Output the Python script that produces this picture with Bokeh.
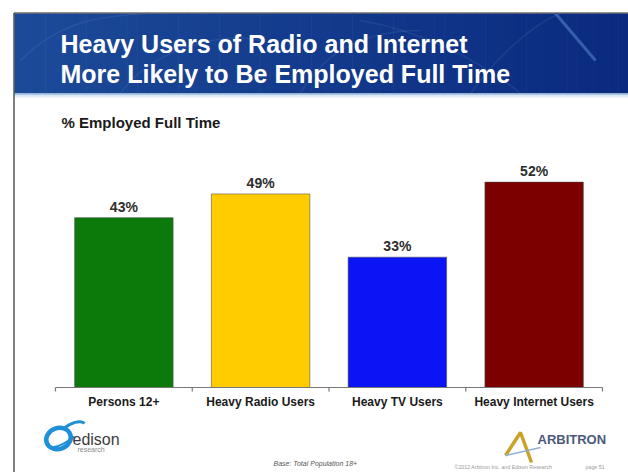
from bokeh.plotting import figure
from bokeh.models import Range1d
from bokeh.core.properties import value
from bokeh.embed import file_html
from bokeh.resources import INLINE

# ---- data -------------------------------------------------------------
categories = ["Persons 12+", "Heavy Radio Users", "Heavy TV Users", "Heavy Internet Users"]
employed_pct = [43, 49, 33, 52]
bar_colors = ["#0b7a0b", "#ffcc00", "#0a14f5", "#7d0000"]

title_lines = ["Heavy Users of Radio and Internet", "More Likely to Be Employed Full Time"]
subtitle = "% Employed Full Time"
base_note = "Base: Total Population 18+"
copyright_note = "\u00a92012 Arbitron Inc. and Edison Research"
page_note = "page 51"

# ---- layout (canvas pixels) ------------------------------------------
W, H = 628, 472
SLOT_LEFT = 55        # left edge of the first category slot
SLOT_W = 136.75       # width of one category slot
BASELINE = 387        # y of the 0% line, from the top
PX_PER_PCT = 3.95     # vertical pixels per percentage point

FONT = value("Liberation Sans")
n = len(categories)

p = figure(
    width=W, height=H,
    x_range=Range1d(-SLOT_LEFT / SLOT_W, (W - SLOT_LEFT) / SLOT_W),
    y_range=Range1d(-(H - BASELINE) / PX_PER_PCT, BASELINE / PX_PER_PCT),
    x_axis_type=None, y_axis_type=None,
    output_backend="svg", toolbar_location=None, min_border=0,
)
p.grid.visible = False
p.outline_line_color = None
p.background_fill_color = "white"
p.border_fill_color = "white"

# pixel coordinate system for the slide decoration (y grows downward)
p.extra_x_ranges = {"px": Range1d(0, W)}
p.extra_y_ranges = {"px": Range1d(H, 0)}
PX = dict(x_range_name="px", y_range_name="px")

# ---- header band ------------------------------------------------------
def mix(c0, c1, t):
    a = [int(c0[i:i + 2], 16) for i in (1, 3, 5)]
    b = [int(c1[i:i + 2], 16) for i in (1, 3, 5)]
    return "#%02x%02x%02x" % tuple(round(a[k] + (b[k] - a[k]) * t) for k in range(3))

hx0, hx1, hy0, hy1 = 14, W, 13, 93
steps = 60
sw = (hx1 - hx0) / steps
lefts = [hx0 + i * sw for i in range(steps)]
p.quad(left=lefts, right=[l + sw + 0.6 for l in lefts], top=[hy0] * steps, bottom=[hy1] * steps,
       fill_color=[mix("#1c4a99", "#0a2a7f", i / (steps - 1)) for i in range(steps)],
       line_color=None, **PX)

# faint texture curves in the header
p.bezier(x0=[20, 120, 300, 360, 470], y0=[60, 93, 93, 20, 93],
         x1=[150, 260, 420, 520, 560], y1=[13, 40, 30, 93, 13],
         cx0=[60, 150, 330, 420, 500], cy0=[20, 50, 40, 30, 50],
         cx1=[100, 220, 380, 480, 540], cy1=[15, 30, 30, 60, 20],
         line_color="#7d9ad6", line_alpha=0.14, line_width=1.5, **PX)
p.segment(x0=[555], y0=[13], x1=[595], y1=[60], line_color="#4a74c2",
          line_alpha=0.7, line_width=3, **PX)

# light strip under the header
p.quad(left=[hx0], right=[W], top=[hy1], bottom=[hy1 + 2], fill_color="#a9c8e8", line_color=None, **PX)
p.quad(left=[hx0], right=[W], top=[hy1 + 2], bottom=[hy1 + 4], fill_color="#e0ecf7", line_color=None, **PX)

# slide border
p.segment(x0=[13.5, 13.5], y0=[12.5, 12.5], x1=[13.5, W], y1=[H, 12.5],
          line_color="#2a2a2a", line_width=1.2, **PX)

# title
p.text(x=[60, 60], y=[43, 73], text=title_lines, text_font=FONT, text_font_style="bold",
       text_font_size="25px", text_color="white", text_baseline="alphabetic", **PX)

# subtitle
p.text(x=[61], y=[122], text=[subtitle], text_font=FONT, text_font_style="bold",
       text_font_size="15px", text_color="#1a1a1a", text_baseline="alphabetic", **PX)

# ---- bars -------------------------------------------------------------
xs = [i + 0.5 for i in range(n)]
p.vbar(x=xs, top=employed_pct, bottom=0, width=0.72, fill_color=bar_colors,
       line_color="#4a4a4a", line_alpha=0.55, line_width=1)

p.text(x=xs, y=employed_pct, text=[f"{v}%" for v in employed_pct], text_font=FONT,
       text_font_style="bold", text_font_size="14px", text_color="#2e2e2e",
       text_align="center", text_baseline="alphabetic", y_offset=-11)

# category axis: baseline, boundary ticks and labels
p.segment(x0=[0], y0=[0], x1=[n], y1=[0], line_color="#777777", line_width=1.2)
p.segment(x0=list(range(n + 1)), y0=[0] * (n + 1), x1=list(range(n + 1)),
          y1=[-4 / PX_PER_PCT] * (n + 1), line_color="#777777", line_width=1.2)
p.text(x=xs, y=[0] * n, text=categories, text_font=FONT, text_font_style="bold",
       text_font_size="12px", text_color="#1a1a1a", text_align="center",
       text_baseline="alphabetic", y_offset=14)

# ---- footer logos and notes ---------------------------------------------
# edison research
p.ellipse(x=[58], y=[438], width=[25], height=[21], angle=[0.35], fill_color=None,
          line_color="#1f8fd8", line_width=4.5, **PX)
p.bezier(x0=[62], y0=[429], x1=[84], y1=[423], cx0=[70], cy0=[422], cx1=[80], cy1=[419],
         line_color="#1f8fd8", line_width=3, **PX)
p.bezier(x0=[52], y0=[447], x1=[74], y1=[436], cx0=[60], cy0=[446], cx1=[70], cy1=[439],
         line_color="#1f8fd8", line_width=2, **PX)
p.text(x=[72], y=[439], text=["edison"], text_font=FONT, text_font_size="16px",
       text_color="#3c3c3c", text_baseline="alphabetic", **PX)
p.text(x=[77], y=[449], text=["research"], text_font=FONT, text_font_size="7px",
       text_color="#8a8a8a", text_baseline="alphabetic", **PX)

# arbitron
p.line(x=[505, 520, 531], y=[455, 432, 462], line_color="#c9a227", line_width=3.5, **PX)
p.line(x=[505, 540], y=[455, 447], line_color="#8fb0d8", line_width=1.5, **PX)
p.text(x=[537], y=[439], text=["ARBITRON"], text_font=FONT, text_font_style="bold",
       text_font_size="13px", text_color="#4a5a7a", text_baseline="alphabetic", **PX)

p.text(x=[273], y=[463], text=[base_note], text_font=FONT, text_font_style="italic",
       text_font_size="7px", text_color="#555555", text_baseline="alphabetic", **PX)
p.text(x=[454], y=[466], text=[copyright_note], text_font=FONT, text_font_size="5.3px",
       text_color="#9a9a9a", text_baseline="alphabetic", **PX)
p.text(x=[585], y=[466], text=[page_note], text_font=FONT, text_font_size="5.3px",
       text_color="#9a9a9a", text_baseline="alphabetic", **PX)

open("out.html", "w").write(file_html(p, INLINE))
